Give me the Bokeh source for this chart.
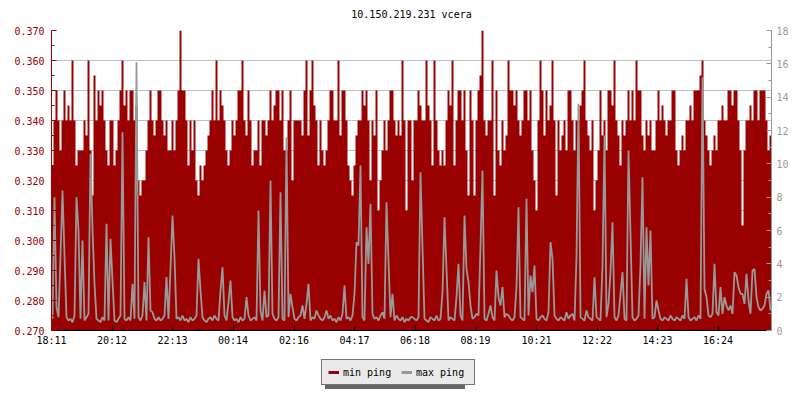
from bokeh.plotting import figure
from bokeh.layouts import column
from bokeh.models import Range1d, LinearAxis, FixedTicker, PrintfTickFormatter, Legend, LegendItem
from bokeh.embed import file_html
from bokeh.resources import INLINE

TITLE = "10.150.219.231 vcera"

# one sample every 4 minutes, starting at 18:11
STEP_MIN = 4

min_ping = [
    0.325, 0.34, 0.35, 0.34, 0.33, 0.34, 0.35, 0.34, 0.345, 0.34,
    0.36, 0.34, 0.325, 0.33, 0.33, 0.33, 0.34, 0.335, 0.36, 0.33,
    0.315, 0.355, 0.34, 0.35, 0.345, 0.35, 0.34, 0.33, 0.325, 0.34,
    0.34, 0.325, 0.33, 0.34, 0.35, 0.36, 0.345, 0.35, 0.34, 0.35,
    0.35, 0.34, 0.345, 0.32, 0.315, 0.32, 0.32, 0.33, 0.34, 0.35,
    0.34, 0.335, 0.34, 0.35, 0.35, 0.34, 0.335, 0.34, 0.33, 0.33,
    0.34, 0.33, 0.34, 0.35, 0.37, 0.35, 0.35, 0.34, 0.325, 0.34,
    0.33, 0.34, 0.32, 0.315, 0.325, 0.32, 0.325, 0.33, 0.335, 0.34,
    0.35, 0.34, 0.36, 0.34, 0.35, 0.345, 0.34, 0.33, 0.325, 0.33,
    0.34, 0.335, 0.34, 0.35, 0.35, 0.36, 0.34, 0.335, 0.35, 0.34,
    0.325, 0.33, 0.33, 0.34, 0.325, 0.34, 0.34, 0.335, 0.34, 0.35,
    0.34, 0.345, 0.35, 0.35, 0.34, 0.35, 0.33, 0.33, 0.34, 0.35,
    0.32, 0.34, 0.34, 0.34, 0.34, 0.335, 0.35, 0.36, 0.335, 0.35,
    0.36, 0.345, 0.34, 0.325, 0.34, 0.33, 0.325, 0.33, 0.34, 0.35,
    0.35, 0.34, 0.34, 0.36, 0.335, 0.35, 0.35, 0.34, 0.325, 0.32,
    0.315, 0.325, 0.335, 0.34, 0.34, 0.35, 0.345, 0.35, 0.34, 0.32,
    0.34, 0.335, 0.35, 0.31, 0.32, 0.33, 0.34, 0.33, 0.34, 0.35,
    0.35, 0.34, 0.335, 0.34, 0.335, 0.36, 0.34, 0.31, 0.34, 0.34,
    0.32, 0.34, 0.34, 0.35, 0.345, 0.34, 0.34, 0.36, 0.345, 0.34,
    0.325, 0.36, 0.34, 0.33, 0.325, 0.33, 0.325, 0.34, 0.35, 0.345,
    0.36, 0.325, 0.34, 0.35, 0.35, 0.34, 0.35, 0.33, 0.315, 0.35,
    0.34, 0.315, 0.34, 0.35, 0.355, 0.37, 0.34, 0.335, 0.34, 0.34,
    0.36, 0.315, 0.35, 0.33, 0.325, 0.34, 0.33, 0.335, 0.36, 0.35,
    0.35, 0.345, 0.35, 0.34, 0.335, 0.34, 0.35, 0.35, 0.34, 0.35,
    0.33, 0.32, 0.31, 0.34, 0.36, 0.35, 0.335, 0.35, 0.34, 0.345,
    0.36, 0.34, 0.315, 0.34, 0.33, 0.335, 0.34, 0.33, 0.35, 0.35,
    0.34, 0.33, 0.34, 0.34, 0.345, 0.35, 0.36, 0.34, 0.335, 0.33,
    0.34, 0.31, 0.32, 0.33, 0.35, 0.335, 0.34, 0.33, 0.35, 0.35,
    0.345, 0.36, 0.34, 0.335, 0.325, 0.34, 0.335, 0.34, 0.35, 0.34,
    0.35, 0.34, 0.36, 0.35, 0.35, 0.335, 0.33, 0.34, 0.335, 0.34,
    0.33, 0.33, 0.34, 0.35, 0.34, 0.345, 0.34, 0.335, 0.34, 0.34,
    0.35, 0.35, 0.33, 0.325, 0.33, 0.335, 0.33, 0.34, 0.34, 0.345,
    0.34, 0.35, 0.35, 0.35, 0.355, 0.36, 0.34, 0.335, 0.33, 0.325,
    0.33, 0.335, 0.33, 0.34, 0.34, 0.345, 0.34, 0.34, 0.35, 0.35,
    0.345, 0.35, 0.35, 0.34, 0.33, 0.305, 0.33, 0.34, 0.34, 0.345,
    0.34, 0.35, 0.35, 0.34, 0.35, 0.35, 0.35, 0.34, 0.33, 0.335,
]

max_ping = [
    0.7, 8.0, 1.4, 0.8, 4.5, 8.4, 4.5, 0.8, 0.6, 0.7,
    0.5, 0.9, 8.0, 6.0, 0.7, 5.4, 0.6, 0.8, 1.0, 10.6,
    6.1, 2.8, 0.7, 0.6, 0.5, 0.8, 0.6, 6.4, 0.6, 5.5,
    3.0, 0.6, 0.5, 0.7, 0.9, 11.9, 0.7, 0.6, 0.8, 0.6,
    2.8, 0.7, 16.1, 0.8, 0.6, 0.9, 2.9, 0.6, 5.6, 1.2,
    1.1, 0.7, 0.6, 0.8, 0.6, 0.7, 0.9, 3.2, 0.7, 3.7,
    6.9, 4.4, 0.7, 0.8, 0.6, 0.9, 0.6, 0.7, 0.5, 0.8,
    0.6, 0.7, 0.9, 4.3, 2.4, 0.8, 0.6, 0.5, 0.7, 0.8,
    0.6, 0.9, 0.7, 0.6, 2.4, 3.8, 0.9, 0.6, 1.7, 3.0,
    0.8, 0.6, 0.7, 0.5, 0.8, 0.6, 0.7, 2.0, 0.9, 0.6,
    0.7, 0.8, 0.6, 7.2, 1.2, 0.6, 2.4, 0.8, 0.9, 9.0,
    1.0, 0.7, 0.6, 0.8, 8.3, 0.7, 0.6, 11.6, 0.8, 2.2,
    1.4, 0.7, 0.6, 0.8, 0.9, 1.5, 0.7, 1.6, 2.8, 0.6,
    0.8, 0.7, 1.2, 0.9, 0.7, 0.6, 0.8, 1.2, 0.7, 0.9,
    0.6, 0.7, 0.5, 0.8, 0.6, 1.0, 2.7, 0.7, 0.8, 0.6,
    0.9, 2.2, 5.3, 5.1, 9.9, 0.8, 0.6, 6.2, 4.0, 7.6,
    1.0, 0.7, 0.8, 0.6, 0.9, 1.1, 0.7, 7.7, 4.2, 0.8,
    2.2, 0.6, 0.9, 0.7, 0.6, 0.8, 0.5, 0.7, 0.6, 0.8,
    0.8, 0.7, 0.6, 0.8, 9.5, 5.0, 0.7, 0.6, 0.5, 0.8,
    0.7, 0.6, 0.9, 0.6, 0.7, 2.3, 6.8, 3.7, 0.6, 0.8,
    0.7, 0.6, 2.0, 4.0, 0.9, 0.6, 6.9, 3.7, 2.9, 1.5,
    0.7, 0.8, 1.0, 0.9, 5.1, 9.6, 0.7, 0.6, 1.0, 1.5,
    0.8, 0.6, 3.6, 2.0, 1.5, 2.6, 0.8, 1.0, 0.9, 0.7,
    0.6, 0.8, 2.6, 7.4, 0.8, 0.7, 0.6, 7.9, 0.9, 3.3,
    2.3, 3.9, 0.7, 0.6, 0.8, 0.9, 0.7, 0.6, 1.1, 5.3,
    4.3, 0.9, 0.7, 0.6, 0.8, 0.7, 0.6, 1.1, 0.7, 0.9,
    1.0, 0.6, 4.4, 13.6, 0.8, 0.7, 0.6, 1.2, 0.8, 0.7,
    0.6, 3.2, 0.8, 0.7, 0.6, 3.9, 11.7, 0.8, 1.6, 3.5,
    6.5, 0.8, 0.6, 0.9, 2.2, 3.5, 0.7, 0.6, 10.8, 5.8,
    0.8, 0.6, 0.7, 0.9, 3.9, 9.2, 0.7, 6.2, 2.7, 6.0,
    0.7, 0.8, 1.8, 1.2, 0.7, 0.6, 0.8, 0.7, 0.6, 0.9,
    0.7, 0.6, 0.8, 0.7, 0.6, 0.9, 0.7, 3.1, 0.8, 0.6,
    0.7, 0.8, 0.6, 0.9, 0.7, 15.2, 2.5, 2.0, 0.9, 0.8,
    1.0, 4.0, 1.1, 0.9, 2.6, 1.0, 2.0, 1.5, 1.2, 1.5,
    1.0, 3.5, 3.3, 2.6, 2.2, 2.2, 1.6, 3.4, 1.8, 1.0,
    3.6, 3.7, 2.0, 1.4, 1.2, 1.3, 1.5, 2.2, 2.4, 1.2,
]

x_tick_minutes = [0, 121, 242, 363, 485, 606, 727, 848, 970, 1091, 1212, 1333]
x_tick_labels = ["18:11", "20:12", "22:13", "00:14", "02:16", "04:17",
                 "06:18", "08:19", "10:21", "12:22", "14:23", "16:24"]
left_ticks = [0.27, 0.28, 0.29, 0.30, 0.31, 0.32, 0.33, 0.34, 0.35, 0.36, 0.37]
left_minor = [0.275, 0.285, 0.295, 0.305, 0.315, 0.325, 0.335, 0.345, 0.355, 0.365]
right_ticks = [0, 2, 4, 6, 8, 10, 12, 14, 16, 18]
right_minor = [1, 3, 5, 7, 9, 11, 13, 15, 17]
series_labels = ["min ping", "max ping"]

RED = "#990000"
GRAY = "#999999"
FONT = "DejaVu Sans Mono"

n = len(min_ping)
span = n * STEP_MIN

# min ping: step-shaped area (each sample holds for STEP_MIN minutes)
xs, ys_min = [], []
for i in range(n):
    xs += [i * STEP_MIN, (i + 1) * STEP_MIN]
    ys_min += [min_ping[i], min_ping[i]]
# max ping: line through the middle of each sample interval
x_mid = [i * STEP_MIN + STEP_MIN / 2 for i in range(n)]

p = figure(width=800, height=350, output_backend="svg", toolbar_location=None,
           x_range=Range1d(0, span), y_range=Range1d(left_ticks[0], left_ticks[-1]),
           min_border_left=51, min_border_right=29, min_border_top=30, min_border_bottom=20)
p.extra_y_ranges = {"right": Range1d(right_ticks[0], right_ticks[-1])}
p.outline_line_color = None
p.background_fill_color = "white"
p.border_fill_color = "white"

p.title.text = TITLE
p.title.align = "center"
p.title.vertical_align = "top"
p.title.text_font = FONT
p.title.text_font_size = "10px"
p.title.text_font_style = "normal"
p.title.text_color = "black"
p.title.standoff = 17

p.varea(x=xs, y1=left_ticks[0], y2=ys_min, fill_color=RED, fill_alpha=1)
p.line(x=x_mid, y=max_ping, line_color=GRAY, line_width=1.8, y_range_name="right")

# grid
p.xgrid.visible = False
p.ygrid.ticker = FixedTicker(ticks=left_ticks)
p.ygrid.grid_line_color = "#c0c0c0"
p.ygrid.grid_line_width = 1


def style_axis(a, col, standoff):
    a.axis_line_color = col
    a.major_tick_line_color = col
    a.minor_tick_line_color = col
    a.major_label_text_color = col
    a.major_label_text_font = FONT
    a.major_label_text_font_size = "10px"
    a.major_tick_in = 5
    a.major_tick_out = 0
    a.minor_tick_in = 3
    a.minor_tick_out = 0
    a.major_label_standoff = standoff


# left axis
ya = p.yaxis[0]
ya.ticker = FixedTicker(ticks=left_ticks, minor_ticks=left_minor)
ya.formatter = PrintfTickFormatter(format="%.3f")
style_axis(ya, RED, 7)

# right axis
ra = LinearAxis(y_range_name="right",
                ticker=FixedTicker(ticks=right_ticks, minor_ticks=right_minor))
style_axis(ra, GRAY, 5)
p.add_layout(ra, "right")

# bottom axis
xa = p.xaxis[0]
xa.ticker = FixedTicker(ticks=x_tick_minutes)
xa.major_label_overrides = {t: l for t, l in zip(x_tick_minutes, x_tick_labels)}
style_axis(xa, "black", 4)

# legend strip below the chart (a legend with a drop shadow)
lf = figure(width=800, height=50, output_backend="svg", toolbar_location=None,
            x_range=Range1d(0, 1), y_range=Range1d(0, 1),
            x_axis_location=None, y_axis_location=None,
            min_border=0, min_border_left=0, min_border_right=0,
            min_border_top=0, min_border_bottom=0)
lf.xgrid.visible = False
lf.ygrid.visible = False
lf.outline_line_color = None
lf.background_fill_color = "white"
lf.border_fill_color = "white"

NAN = float("nan")


def legend_for(c1, c2, text_col, bg, border, loc):
    # placeholder renderers (nothing visible on the canvas) that give the legend its glyphs
    r1 = lf.line(x=[NAN], y=[NAN], line_color=c1, line_width=3)
    r2 = lf.line(x=[NAN], y=[NAN], line_color=c2, line_width=3)
    lg = Legend(items=[LegendItem(label=series_labels[0], renderers=[r1]),
                       LegendItem(label=series_labels[1], renderers=[r2])],
                location=loc, orientation="horizontal",
                background_fill_color=bg, background_fill_alpha=1,
                border_line_color=border, border_line_width=1,
                label_text_color=text_col, label_text_font=FONT,
                label_text_font_size="10px", label_standoff=4,
                glyph_width=11, glyph_height=12, label_height=12, label_width=52,
                padding=6, spacing=6, margin=0)
    lf.add_layout(lg, "center")
    return lg


legend_for("#666666", "#666666", "#666666", "#666666", None, (274, 11))
legend_for(RED, GRAY, "black", "#eaeaea", "black", (270, 15))

open("out.html", "w").write(file_html(column(p, lf, spacing=0), INLINE))
